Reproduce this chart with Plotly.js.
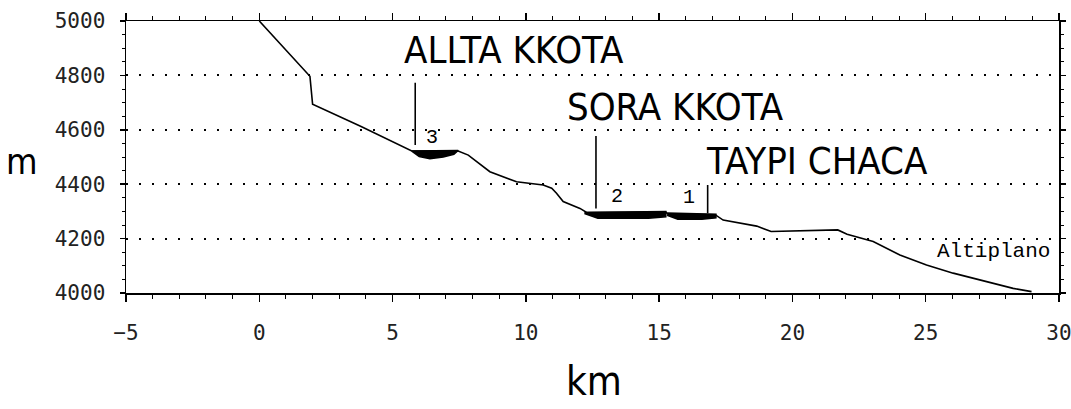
<!DOCTYPE html>
<html>
<head>
<meta charset="utf-8">
<script src="https://cdn.plot.ly/plotly-3.0.1.min.js"></script>
<style>html,body{margin:0;padding:0;background:#fff;}#chart{width:1071px;height:409px;}</style>
</head>
<body>
<div id="chart"></div>
<script>
// Elevation profile (km, m)
var prof_km = [0, 1.9, 2.0, 3.8, 5.72, 7.46, 7.84, 8.65, 9.65, 10.65, 10.97, 11.15, 11.4, 12.03, 12.28, 15.25, 15.3, 17.13, 17.4, 18.03, 18.66, 19.2, 20.0, 21.7, 22.05, 23.03, 24.03, 25.03, 26.03, 27.28, 28.28, 28.97];
var prof_m  = [5000, 4797, 4694, 4613, 4522, 4522, 4507, 4446, 4409, 4397, 4385, 4367, 4336, 4311, 4296, 4298, 4292, 4286, 4268, 4256, 4246, 4226, 4228, 4232, 4216, 4189, 4140, 4103, 4073, 4042, 4017, 4005];

// Lakes (outline of the black lens shapes)
var lake3_km = [5.72, 7.46, 7.3, 6.9, 6.4, 6.0, 5.72];
var lake3_m  = [4522, 4524, 4510, 4500, 4494, 4502, 4522];
var lake2_km = [12.2, 15.25, 15.25, 14.6, 12.7, 12.2];
var lake2_m  = [4296, 4300, 4280, 4275, 4275, 4292];
var lake1_km = [15.3, 17.13, 17.13, 16.6, 15.7, 15.3];
var lake1_m  = [4294, 4290, 4276, 4271, 4271, 4286];

// Site markers
var site_names  = ["ALLTA KKOTA", "SORA KKOTA", "TAYPI CHACA"];
var lake_ids    = ["3", "2", "1"];
var marker_km   = [5.85, 12.63, 16.82];
var marker_top  = [4773, 4577, 4397];
var marker_base = [4544, 4311, 4293];

var traces = [];
traces.push({x: prof_km, y: prof_m, mode: 'lines', line: {color: '#000', width: 1.6}, hoverinfo: 'skip', showlegend: false});
[[lake3_km, lake3_m], [lake2_km, lake2_m], [lake1_km, lake1_m]].forEach(function (l) {
  traces.push({x: l[0], y: l[1], mode: 'lines', fill: 'toself', fillcolor: '#000', line: {color: '#000', width: 1.5}, hoverinfo: 'skip', showlegend: false});
});
for (var i = 0; i < marker_km.length; i++) {
  traces.push({x: [marker_km[i], marker_km[i]], y: [marker_base[i], marker_top[i]], mode: 'lines', line: {color: '#000', width: 1.6}, hoverinfo: 'skip', showlegend: false});
}

var bigFont = {family: 'Liberation Sans Narrow, DejaVu Sans Condensed, Arial Narrow, sans-serif', size: 38, color: '#000'};
var numFont = {family: 'Liberation Mono, Courier New, monospace', size: 20, color: '#000'};
var annotations = [
  {x: 9.55, y: 4893, text: site_names[0]},
  {x: 15.63, y: 4684, text: site_names[1]},
  {x: 20.91, y: 4485, text: site_names[2]},
].map(function (a) { return Object.assign(a, {xref: 'x', yref: 'y', showarrow: false, font: bigFont, xanchor: 'center', yanchor: 'middle'}); });
[[6.48, 4571], [13.43, 4354], [16.12, 4351]].forEach(function (p, i) {
  annotations.push({x: p[0], y: p[1], text: lake_ids[i], xref: 'x', yref: 'y', showarrow: false, font: numFont, xanchor: 'center', yanchor: 'middle'});
});
annotations.push({x: 27.56, y: 4152, text: 'Altiplano', xref: 'x', yref: 'y', showarrow: false, font: {family: 'Liberation Mono, Courier New, monospace', size: 21, color: '#000'}, xanchor: 'center', yanchor: 'middle'});
annotations.push({x: -0.1115, y: 0.485, text: 'm', xref: 'paper', yref: 'paper', showarrow: false, font: {family: bigFont.family, size: 36, color: '#000'}, xanchor: 'center', yanchor: 'middle'});
annotations.push({x: 0.5016, y: -0.325, text: 'km', xref: 'paper', yref: 'paper', showarrow: false, font: {family: bigFont.family, size: 40, color: '#000'}, xanchor: 'center', yanchor: 'middle'});

var tickFont = {family: 'DejaVu Sans Mono, monospace', size: 21, color: '#222'};
var layout = {
  width: 1071, height: 409,
  margin: {l: 126, r: 12, t: 21, b: 116, pad: 0},
  paper_bgcolor: '#fff', plot_bgcolor: '#fff',
  showlegend: false,
  xaxis: {
    range: [-5, 30], tick0: 0, dtick: 5, ticks: 'outside', ticklen: 7, tickwidth: 1.5, tickcolor: '#000',
    showline: true, linecolor: '#000', linewidth: 1.5, mirror: 'ticks', showgrid: false, zeroline: false,
    tickfont: tickFont, ticklabelstandoff: 13, ticklabeloverflow: 'allow',
    minor: {dtick: 1, ticklen: 4, ticks: 'outside', tickcolor: '#000', tickwidth: 1, showgrid: false}
  },
  yaxis: {
    range: [4000, 5000], tick0: 4000, dtick: 200, ticks: 'outside', ticklen: 5, tickwidth: 1.5, tickcolor: '#000',
    showline: true, linecolor: '#000', linewidth: 1.5, mirror: 'ticks', zeroline: false,
    showgrid: true, gridcolor: '#000', gridwidth: 2, griddash: '2px,11px',
    tickfont: tickFont, ticklabelstandoff: 10, ticklabeloverflow: 'allow',
    minor: {dtick: 50, ticklen: 3, ticks: 'outside', tickcolor: '#000', tickwidth: 1, showgrid: false}
  },
  annotations: annotations
};
Plotly.newPlot('chart', traces, layout, {displayModeBar: false, staticPlot: true});
</script>
</body>
</html>
